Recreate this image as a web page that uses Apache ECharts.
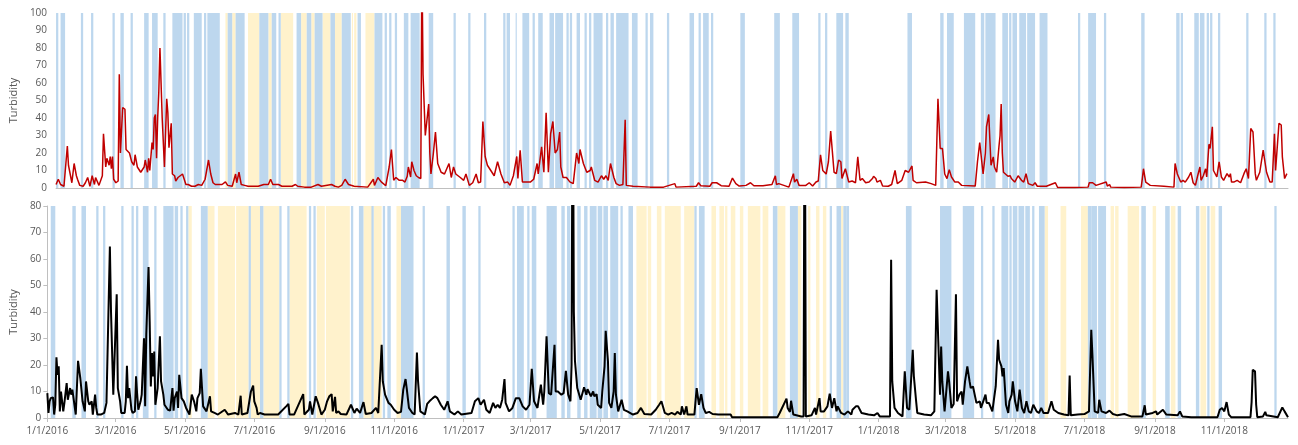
<!DOCTYPE html>
<html>
<head>
<meta charset="utf-8">
<script src="https://cdn.jsdelivr.net/npm/echarts@6/dist/echarts.min.js"></script>
<style>
html, body { margin: 0; padding: 0; background: #fff; }
#chart { width: 1298px; height: 445px; }
</style>
</head>
<body>
<div id="chart"></div>
<script>
// day 0 = 1/1/2016, one point per [day, turbidity]
var startDate = Date.UTC(2016, 0, 1);
var lastDay = 1091;

var tickLabels = ['1/1/2016', '3/1/2016', '5/1/2016', '7/1/2016', '9/1/2016', '11/1/2016',
    '1/1/2017', '3/1/2017', '5/1/2017', '7/1/2017', '9/1/2017', '11/1/2017',
    '1/1/2018', '3/1/2018', '5/1/2018', '7/1/2018', '9/1/2018', '11/1/2018'];

var redTurbidity = [
    [0,2],[2,5],[4,2],[7,1],[10,24],[11,13],[12,13],[14,3],[16,14],[18,7],[19,5],[21,1.5],[24,1],[26,3],[27,2],[28,6],[30,1],[32,7],[34,2],[35,6],[38,1.5],
    [41,7],[42,31],[44,12],[45,17],[47,13],[48,18],[49,11],[50,18],[51,5],[53,3],[55,4],[56,65],[57,20],[59,46],[61,45],[62,22],[65,20],[67,15],[69,13],[70,19],
    [72,12],[75,9],[78,12],[79,16],[81,9],[82,17],[83,10],[85,26],[86,22],[87,40],[88,42],[89,17],[90,40],[91,55],[92,80],[94,40],[96,12],[98,51],[99,43],[100,23],
    [102,37],[103,8],[105,7],[106,4],[108,6],[109,5],[110,7],[112,8],[115,2],[117,2],[120,1],[123,1],[126,2],[129,1.5],[132,5],[135,16],[137,8],[139,3],[141,2],
    [147,2],[150,3.5],[152,1.5],[156,1],[159,8],[160,3],[162,9],[164,2],[167,1.5],[170,1],[179,1],[184,2],[188,2],[190,5],[192,2],[197,2],[200,1],[209,1],[212,2],
    [214,1],[220,0.5],[226,0.5],[232,2],[235,1],[244,2],[247,1],[250,0.5],[253,1.5],[256,5],[259,2],[264,1],
    [276,0.5],[281,5],[282,1.5],[285,6],[288,3.5],[292,1.3],[295,12],[297,22],[299,4.4],[301,6],[304,4.4],[307,4.4],[309,3.4],[311,6.7],[312,12],[314,6.3],[315,15],
    [317,10],[319,7],[321,6],[323,5.4],[324,130],[325,65],[327,30],[330,48],[331,20],[332,8],[334,19],[336,32],[338,14],[339,15],[341,9],[344,8],[346,11],[348,14],
    [350,6],[352,12],[354,8],[356,7],[358,6],[361,4.4],[363,8],[366,1.5],[369,3],[372,8],[374,3],[376,3.4],[378,38],[380,18],[382,13],[385,10],[388,7],[391,15],
    [394,8],[397,3],[400,3.4],[402,1.5],[405,7],[408,18],[409,5.4],[411,21.6],[413,3.4],[416,3.4],[420,3.4],[423,5],[426,14],[427,8],[430,23.5],[432,9],[434,43],
    [436,9],[438,31],[440,38],[442,20],[444,22],[446,32],[447,12],[449,6],[452,6],[455,3.5],[458,2.5],[461,20],[463,14],[464,22],[467,14],[470,9],[473,10],[474,12],
    [477,4.4],[480,3.4],[483,7],[485,5],[487,7],[489,4.4],[491,14],[494,6],[496,2.5],[499,1.5],[502,2],[504,39],[505,1.5],[511,1],[526,0.5],
    [538,0.5],[548,2.5],[549,0.5],[567,1],[569,3],[571,1.3],[579,1],[581,3],[585,3],[589,1.3],[596,1],[599,5.7],[602,2.5],[605,1.1],[611,1.5],[615,3],[618,1.3],
    [626,1.3],[634,2],[637,7],[638,2],[640,2.5],[649,0.5],[653,8.2],[654,3.4],[656,5],[658,1.5],[664,1.5],[667,3],[670,1.1],[673,3.4],[675,4],[677,19],[679,10],
    [682,8],[684,15],[686,32.5],[687,32],[689,9],[691,8.2],[693,16],[695,15],[696,5.4],[699,11],[700,11.5],[702,3.4],[705,4],[708,3],[710,17.8],[712,4.4],[714,5.4],
    [717,3],[720,3.4],[723,5.4],[724,6.7],[726,5.4],[727,3.4],[730,4.4],[732,1.1],[737,1],[740,2],[743,10],[745,2.5],[749,4.4],[752,10],[755,9],[758,12.6],[759,4.4],
    [762,3],[770,3.4],[775,2.5],[779,1.5],[781,51],[783,22.6],[785,22.6],[787,8],[789,5.4],[791,10.5],[793,6.3],[796,3.4],[799,3.4],[802,1.5],[814,1.1],[816,15],
    [818,26],[821,8],[823,20],[824,35],[826,42],[827,27],[828,13],[830,17.8],[831,12],[833,9],[835,23.5],[836,30],[837,48],[838,20],[839,9],
    [840,8],[843,6.7],[845,7],[846,5.4],[847,6.3],[849,3.4],[852,7],[855,4.4],[857,3.4],[859,8.2],[861,2.5],[865,1.5],[867,3],[869,1],[877,1],[885,3],[887,0.3],
    [902,0.3],[914,0.5],[915,3],[916,2.5],[918,3],[921,1.5],[930,3.4],[931,1.1],[933,2],[934,0.5],[946,0.3],[961,0.5],[962,5.4],[963,11],[965,3.4],[969,1.5],
    [981,1],[990,0.5],[991,14],[993,8],[996,3.4],[998,4.4],[1000,3.4],[1003,6.3],[1005,9],[1007,3],[1009,1.5],[1011,7],[1013,12],[1014,4.4],[1016,7],[1018,11],
    [1019,6.3],[1021,25],[1022,22.6],[1024,35],[1025,10],[1028,6.3],[1030,15],[1032,6.3],[1034,4.4],[1037,8.2],[1039,6.3],[1040,8.2],[1041,3.4],[1043,3.4],
    [1046,4.4],[1049,3],[1052,8.2],[1054,11],[1056,5.4],[1058,34],[1060,32],[1062,8.2],[1063,4.4],[1066,9],[1069,21.6],[1072,9],[1075,3.4],[1077,3.4],[1079,31],
    [1080,10],[1083,37],[1085,36],[1086,17.8],[1088,5.4],[1090,8.2]
];

var blackTurbidity = [
    [0,9.4],[1,1.9],[2,6.3],[3,7.5],[5,7.8],[6,1.3],[7,5],[8,22.9],[9,16.3],[10,19.5],[11,2.5],[12,10],[14,2.5],[15,5.7],[17,13.2],[18,6.9],[20,11.3],[21,8.8],
    [22,10.7],[23,11.3],[25,1.3],[26,1.9],[27,21.6],[29,15],[30,14.4],[31,6.3],[33,2.5],[34,13.8],[36,6.3],[37,5],[39,6.3],[40,1.3],[42,8.8],[43,3.8],[44,1.3],
    [47,1.3],[50,1.9],[52,5.7],[53,5.7],[55,64.7],[56,40],[58,8.8],[60,34],[61,46.7],[62,11.3],[64,6.3],[65,1.9],[68,1.9],[69,6.3],[70,19.7],[71,7.5],[72,11.3],
    [74,3.1],[75,1.9],[77,2.5],[78,15.7],[79,8.8],[80,3.1],[82,6.3],[83,8.8],[85,30.1],[86,4.4],[87,31.4],[89,57],[90,36.4],[91,11.9],[92,24.5],[93,15.7],[94,25.1],
    [95,5],[97,11.3],[99,30.8],[100,13.8],[102,8.8],[103,5],[106,3.1],[108,2.8],[110,11.3],[111,2.8],[112,7.5],[114,10],[115,3.8],[116,16.3],[118,7.5],[120,6.3],
    [122,3.8],[125,1.3],[127,8.8],[129,6.3],[131,2.5],[132,7.5],[134,9.4],[135,18.6],[137,4.4],[140,2.5],[143,8.2],[144,2.5],[147,1.9],[150,1.3],[156,3.1],[159,1.3],
    [165,1.9],[168,1.3],[170,8.4],[171,1.3],[176,1.9],[179,10],[181,12.2],[182,6.3],[184,3.8],[185,1.3],[187,1.9],[188,2.5],[191,1.3],[203,1.3],[210,4.4],[212,5.3],
    [213,1.3],[217,1.3],[225,9],[226,1.3],[230,3.1],[231,6.3],[233,1.3],[236,8.2],[238,5.7],[241,1.3],[244,3.1],[246,6.3],[248,8.2],[250,9],[251,2.5],[253,8],
    [254,1.9],[256,2.5],[258,1.5],[263,1.3],
    [267,5],[270,1.9],[272,3.5],[275,1.9],[278,6],[280,1.5],[285,1.9],[289,3.8],[291,1.9],[294,27.6],[295,13.8],[297,8.8],[300,5.7],[302,5],[305,3.1],[308,1.9],
    [311,2.3],[313,10.7],[315,14.7],[316,11.3],[318,3.8],[321,1.9],[323,1.3],[325,24.7],[326,13.8],[328,2.5],[332,1.3],[334,5.3],[336,6.3],[339,7.5],[341,8.2],
    [343,7.5],[346,5],[349,3.1],[352,6.3],[354,2.5],[358,1.3],[361,2.5],[364,1.3],[367,1.5],[373,1.9],[376,6.3],[379,7.5],[381,5],[384,6.9],[386,3.1],[389,1.9],
    [392,5.7],[394,3.8],[396,5],[398,3.8],[400,6.9],[402,14.7],[403,5.7],[406,2.5],[409,3.8],[412,7.5],[415,7.5],[418,4.4],[421,3.1],[424,5],[426,18.6],[428,6.3],
    [431,3.8],[434,12.6],[436,5],[437,10],[439,30.8],[441,9.4],[443,8.8],[446,27.6],[447,10],[449,10],[452,8.8],[454,9.4],[456,17.8],[458,8.8],[460,6.3],[461,20],
    [462,150],[463,40],[464,21.4],[466,11.3],[469,6.9],[472,11.6],[474,8.8],[475,10.9],[478,8.2],[480,10],[481,8.2],[483,9],[484,5],[487,3.8],[488,10],[490,19.5],
    [491,32.9],[493,21.4],[494,5.7],[496,3.8],[498,10],[499,24.5],[500,8.8],[502,2.5],[505,6.9],[507,3.1],[510,2.5],[515,1.3],[519,1.9],[522,3.8],[525,1.5],
    [531,1.3],[535,3.1],[538,5],[540,6.3],
    [543,1.9],[546,1.3],[549,1.9],[552,1.3],[554,2.3],[557,1.3],[558,4.4],[560,1.3],[562,4.4],[563,1.3],[569,1.3],[571,11.3],[573,5],[575,9],[577,3.8],[579,1.9],
    [582,2.3],[585,1.5],[590,1.3],[601,1.3],[602,0.3],[642,0.3],[644,1.9],[650,7.3],[651,3.8],[653,2.3],[654,6.5],[656,1.3],[663,0.6],[665,0.6],[666,150],[667,0.6],
    [672,1],[675,3.8],[676,1.3],[679,7.5],[680,2.5],[683,2.5],[686,4.4],[688,9.2],[690,3.8],[692,7.5],[694,2.5],[695,4.4],[698,1.9],[701,1.3],[704,2.5],[707,1.3],
    [708,3.1],[711,4.4],[713,4.4],[716,1.9],[722,1.3],[727,1],[730,1.9],[732,0.6],[741,0.6],[742,59.7],[743,13.8],[745,3.8],[748,1.9],[752,0.6],[754,17.6],[756,3.8],
    [758,3.1],[760,17.6],[761,25.7],[762,15.7],[764,6.3],[765,1.9],[771,1.3],[777,1],[780,2.5],[782,48.4],[783,47.7],[785,8.8],[786,27],[787,13.8],[789,2.5],
    [790,2.5],[792,17.6],[793,13.8],[795,3.8],[797,5.3],[799,46.7],[800,6.3],[802,8.8],[804,10],[805,5],[807,13.8],[809,19.5],[811,13.8],[812,11.3],[814,11.9],
    [817,5.7],[820,6.3],[821,3.8],[823,6.3],[825,8.8],[826,5.7],[828,5.7],[831,2.5],
    [834,12],[836,29.5],[837,22],[839,19.5],[840,15.7],[841,18.8],[843,5],[845,1.9],[846,6.3],[848,8.8],[849,13.8],[851,6.3],[853,2.5],[855,10.7],[857,3.8],
    [859,1.9],[861,6.3],[863,2.5],[865,1.9],[867,5],[870,2.5],[872,1.9],[874,3.8],[876,1.9],[880,1.9],[883,6.3],[885,3.1],[889,1.9],[894,1.3],[898,1],[899,16],
    [900,1],[906,1.3],[912,1.5],[916,2.5],[918,33.3],[919,23.9],[921,2.5],[924,1.9],[925,6.9],[927,2.5],[931,1.9],[934,2.8],[937,1.5],[941,1],[947,1.5],[953,0.6],
    [963,0.6],[965,4.8],[966,1.3],[972,1.9],[975,2.5],[976,1.3],[981,3.1],[984,1.3],[994,1],[996,2.5],[998,0.6],[1006,0.3],[1029,0.3],[1031,3.1],[1033,3.8],
    [1035,2.5],[1037,6],[1039,1.3],[1041,0.3],[1058,0.3],[1059,6],[1060,18.2],[1061,18.5],[1062,17.6],[1063,5],[1064,0.3],[1069,0.6],[1071,2.3],[1072,1],[1082,0.3],
    [1083,0.6],[1086,4],[1088,2.5],[1091,0.3]
];

// shaded day ranges [first day, last day]
var topBlue = [
    [0,2],[4,8],[22,24],[31,33],[50,52],[57,60],[66,68],[78,82],[85,90],[95,97],[103,112],[113,115],[116,118],[122,129],[131,133],[134,145],[152,156],[159,167],
    [180,188],[191,195],[197,199],[213,217],[222,226],[229,236],[243,247],[253,261],[267,270],[282,289],[291,293],[295,297],[300,302],[308,312],[314,322],
    [330,334],[352,354],[365,367],[379,381],[396,398],[399,402],[407,408],[413,419],[422,424],[427,431],[437,441],[442,449],[452,454],[455,457],[461,464],
    [468,470],[472,474],[476,484],[487,489],[491,494],[496,507],[510,515],[522,524],[526,529],[541,543],[561,565],[569,571],[573,578],[580,582],[606,610],
    [636,641],[652,658],[675,677],[681,683],[691,697],[699,702],[754,758],[783,786],[789,795],[804,814],[819,822],[823,832],[838,843],[844,846],[847,851],
    [853,859],[860,867],[871,878],[905,907],[914,921],[928,930],[961,964],[992,995],[996,998],[1008,1012],[1013,1017],[1019,1021],[1022,1024],[1029,1031],
    [1054,1056],[1070,1072],[1078,1080]
];
var topYellow = [
    [150,152],[156,159],[170,180],[188,191],[199,210],[217,222],[226,229],[236,243],[247,253],[262,263],[264,266],[274,282]
];
var bottomBlue = [
    [3,7],[22,25],[30,34],[43,45],[49,51],[65,67],[74,76],[78,80],[84,89],[94,96],[102,111],[112,115],[117,119],[122,124],[135,141],[177,179],[187,190],
    [204,206],[211,213],[230,232],[234,236],[267,269],[274,278],[285,287],[295,297],[299,302],[311,322],[330,332],[351,354],[365,368],[379,381],[409,411],
    [413,419],[422,424],[426,430],[439,442],[442,448],[452,455],[457,460],[466,469],[472,475],[477,483],[484,488],[489,493],[495,502],[504,506],[511,515],
    [569,571],[573,578],[638,642],[653,660],[688,690],[694,698],[700,703],[703,705],[755,760],[785,795],[805,815],[821,823],[831,833],[839,845],[846,848],
    [849,853],[854,859],[860,864],[866,868],[872,877],[915,918],[918,923],[924,931],[962,966],[983,987],[994,997],[1010,1013],[1020,1022],[1030,1033],[1079,1081]
];
var bottomYellow = [
    [124,127],[141,147],[150,165],[166,177],[179,187],[190,204],[213,228],[237,244],[245,266],[278,286],[287,294],[307,311],[518,527],[528,531],[536,540],
    [543,549],[547,557],[560,569],[584,588],[591,595],[596,598],[601,605],[609,612],[616,627],[629,634],[642,649],[660,663],[669,671],[676,679],[682,685],
    [698,700],[877,880],[891,896],[909,915],[935,938],[939,942],[950,960],[972,975],[988,992],[1014,1019],[1023,1027]
];

function dayOf(label) {
    var p = label.split('/');
    return Math.round((Date.UTC(+p[2], +p[0] - 1, +p[1]) - startDate) / 86400000);
}
function dayLabel(d) {
    var dt = new Date(startDate + d * 86400000);
    return (dt.getUTCMonth() + 1) + '/' + dt.getUTCDate() + '/' + dt.getUTCFullYear();
}
var tickDays = tickLabels.map(dayOf);

var gray = '#595959';
var font = 'Open Sans';

function bands(data, color, idx, yMax) {
    return {
        type: 'custom',
        xAxisIndex: idx,
        yAxisIndex: idx,
        silent: true,
        z: 1,
        data: data,
        encode: { x: [0, 1] },
        renderItem: function (params, api) {
            var a = api.coord([api.value(0), yMax]);
            var b = api.coord([api.value(1), 0]);
            return {
                type: 'rect',
                shape: { x: a[0], y: a[1], width: b[0] - a[0], height: b[1] - a[1] },
                style: { fill: color }
            };
        }
    };
}

function yAxis(idx, max, withLine, gap) {
    return {
        type: 'value', gridIndex: idx, min: 0, max: max, interval: 10,
        name: 'Turbidity', nameLocation: 'middle', nameGap: gap,
        nameTextStyle: { color: gray, fontSize: 11, fontFamily: font },
        axisLine: { show: withLine, lineStyle: { color: '#BFBFBF' } },
        axisTick: { show: withLine, length: 4, lineStyle: { color: '#BFBFBF' } },
        axisLabel: { color: gray, fontSize: 10, fontFamily: font, margin: withLine ? 6 : 9 },
        splitLine: { show: false }
    };
}

var chart = echarts.init(document.getElementById('chart'));
var option = {
    animation: false,
    grid: [
        { left: 50, right: 10, top: 13, bottom: 257 },
        { left: 46, right: 10, top: 206, bottom: 27 }
    ],
    xAxis: [
        {
            type: 'value', gridIndex: 0, min: 0, max: lastDay,
            axisLine: { lineStyle: { color: '#BFBFBF' } },
            axisTick: { show: false }, axisLabel: { show: false }, splitLine: { show: false }
        },
        {
            type: 'value', gridIndex: 1, min: 0, max: lastDay,
            axisLine: { lineStyle: { color: '#BFBFBF' } },
            axisTick: { show: true, length: 4, customValues: tickDays, lineStyle: { color: '#BFBFBF' } },
            axisLabel: {
                color: gray, fontSize: 10, fontFamily: font, margin: 8,
                customValues: tickDays,
                formatter: function (v) { return dayLabel(v); }
            },
            splitLine: { show: false }
        }
    ],
    yAxis: [yAxis(0, 100, false, 30), yAxis(1, 80, true, 26)],
    series: [
        bands(topYellow, '#FFF2CC', 0, 100),
        bands(topBlue, '#BDD7EE', 0, 100),
        bands(bottomYellow, '#FFF2CC', 1, 80),
        bands(bottomBlue, '#BDD7EE', 1, 80),
        {
            type: 'line', xAxisIndex: 0, yAxisIndex: 0, z: 3,
            data: redTurbidity, showSymbol: false, clip: true,
            lineStyle: { color: '#C00000', width: 1.5 }
        },
        {
            type: 'line', xAxisIndex: 1, yAxisIndex: 1, z: 3,
            data: blackTurbidity, showSymbol: false, clip: true,
            lineStyle: { color: '#000000', width: 2 }
        }
    ]
};
chart.setOption(option);
</script>
</body>
</html>
